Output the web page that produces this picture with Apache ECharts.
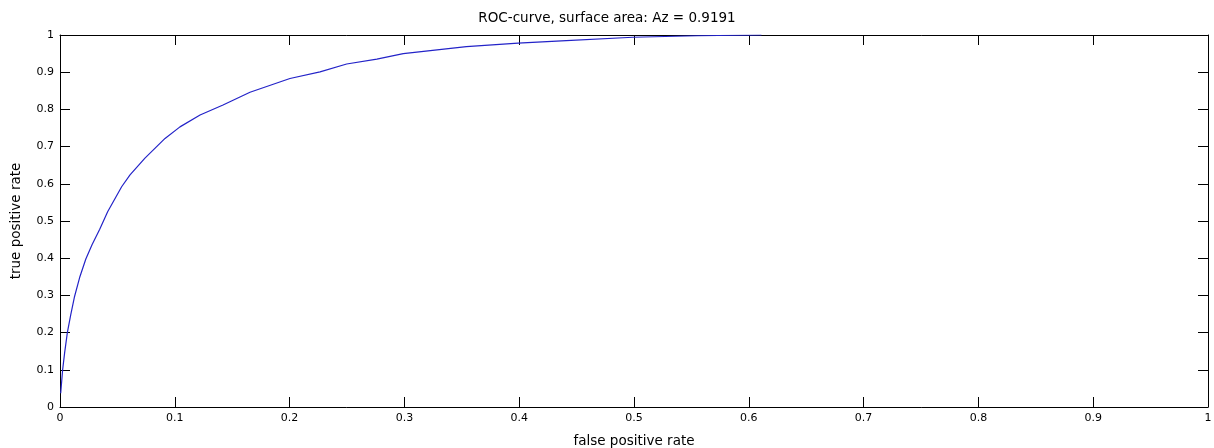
<!DOCTYPE html>
<html>
<head>
<meta charset="utf-8">
<script src="https://cdn.jsdelivr.net/npm/echarts@6/dist/echarts.min.js"></script>
<style>
  html, body { margin: 0; padding: 0; background: #fff; }
  #chart { width: 1214px; height: 448px; }
</style>
</head>
<body>
<div id="chart"></div>
<script>
  // ROC points
  var fpr = [0.0006, 0.0023, 0.004, 0.0064, 0.0093, 0.0125, 0.0171, 0.0225, 0.028, 0.0346, 0.0415,
    0.0537, 0.061, 0.074, 0.0915, 0.1045, 0.122, 0.142, 0.1655, 0.2003, 0.2265, 0.2497,
    0.276, 0.299, 0.354, 0.399, 0.441, 0.499, 0.555, 0.611]
  var tpr = [0.037, 0.1, 0.145, 0.2, 0.247, 0.295, 0.348, 0.398, 0.437, 0.478, 0.525,
    0.592, 0.624, 0.669, 0.722, 0.753, 0.785, 0.812, 0.846, 0.883, 0.901, 0.922,
    0.935, 0.95, 0.969, 0.978, 0.985, 0.994, 0.998, 1.0]
  var titleText = 'ROC-curve, surface area: Az = 0.9191'

  var font = 'DejaVu Sans'
  var points = fpr.map(function (x, i) { return [x, tpr[i]] })

  var tickStyle = {
    axisLine: { show: true, onZero: false, lineStyle: { color: '#000', width: 1 } },
    axisTick: { show: true, inside: true, length: 10, lineStyle: { color: '#000' } },
    splitLine: { show: false }
  }

  var chart = echarts.init(document.getElementById('chart'))
  chart.setOption({
    animation: false,
    backgroundColor: '#fff',
    title: {
      text: titleText,
      left: 'center',
      top: 6,
      textStyle: { fontFamily: font, fontSize: 13.5, fontWeight: 'normal', color: '#000' }
    },
    grid: { left: 60, right: 6, top: 35, bottom: 41, containLabel: false, outerBoundsMode: 'none' },
    xAxis: [
      Object.assign({
        type: 'value', min: 0, max: 1, interval: 0.1, position: 'bottom',
        name: 'false positive rate', nameLocation: 'middle', nameGap: 27,
        nameTextStyle: { fontFamily: font, fontSize: 13.5, color: '#000' },
        axisLabel: { fontFamily: font, fontSize: 11, color: '#000', margin: 6 }
      }, tickStyle),
      Object.assign({
        type: 'value', min: 0, max: 1, interval: 0.1, position: 'top',
        axisLabel: { show: false }
      }, tickStyle)
    ],
    yAxis: [
      Object.assign({
        type: 'value', min: 0, max: 1, interval: 0.1, position: 'left',
        name: 'true positive rate', nameLocation: 'middle', nameGap: 37,
        nameTextStyle: { fontFamily: font, fontSize: 13.5, color: '#000' },
        axisLabel: { fontFamily: font, fontSize: 11, color: '#000', margin: 6 }
      }, tickStyle),
      Object.assign({
        type: 'value', min: 0, max: 1, interval: 0.1, position: 'right',
        axisLabel: { show: false }
      }, tickStyle)
    ],
    series: [{
      type: 'line',
      data: points,
      showSymbol: false,
      smooth: false,
      lineStyle: { color: '#2323c8', width: 1.2 }
    }]
  })
</script>
</body>
</html>
